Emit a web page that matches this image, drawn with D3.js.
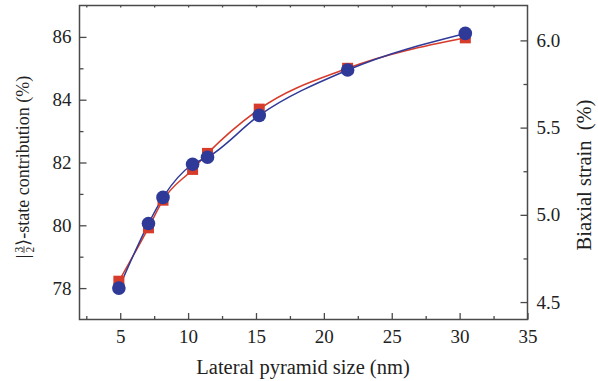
<!DOCTYPE html>
<html>
<head>
<meta charset="utf-8">
<script src="https://cdn.jsdelivr.net/npm/d3@7"></script>
<style>
  html, body { margin: 0; padding: 0; background: #fff; }
  svg { display: block; }
  text { font-family: "Liberation Serif", "Times New Roman", serif; fill: #222; }
</style>
</head>
<body>
<svg id="chart" width="598" height="381"></svg>
<script>
// Lateral pyramid size (nm)
const sizes = [4.9, 7.08, 8.15, 10.33, 11.43, 15.24, 21.75, 30.42];
// |3/2>-state contribution (%) — left axis, red squares
const contribution = [78.22, 79.92, 80.80, 81.78, 82.29, 83.70, 85.0, 85.97];
// Biaxial strain (%) — right axis, blue circles
const strain = [4.58, 4.95, 5.10, 5.29, 5.33, 5.57, 5.83, 6.04];

const xTickValues = [5, 10, 15, 20, 25, 30, 35];
const leftTickValues = [78, 80, 82, 84, 86];
const rightTickValues = [4.5, 5.0, 5.5, 6.0];

const svg = d3.select("#chart");
const m = { left: 79.5, right: 527.5, top: 5.5, bottom: 319.5 };

const x = d3.scaleLinear().domain([2, 35]).range([m.left, m.right]);
const yL = d3.scaleLinear().domain([77, 87]).range([m.bottom, m.top]);
const yR = d3.scaleLinear().domain([4.4, 6.2]).range([m.bottom, m.top]);

const axisColor = "#4a4a4a";
const fontSize = 19;
const titleSize = 20.5;

function styleAxis(g) {
  g.select(".domain").remove();
  g.selectAll(".tick line").attr("stroke", axisColor).attr("stroke-width", 1.3);
  g.selectAll(".tick text").attr("font-size", fontSize).attr("fill", "#222");
}

// bottom axis: major ticks with labels, minor ticks every 2.5
svg.append("g").attr("transform", `translate(0,${m.bottom})`)
  .call(d3.axisBottom(x).tickValues(d3.range(2.5, 35, 2.5).filter(v => v % 5 !== 0)).tickSize(-3.5).tickFormat(""))
  .call(styleAxis);
svg.append("g").attr("transform", `translate(0,${m.bottom})`)
  .call(d3.axisBottom(x).tickValues(xTickValues).tickSize(-6.5).tickPadding(10).tickFormat(d3.format("d")))
  .call(styleAxis);

// top axis: tiny ticks only
svg.append("g").attr("transform", `translate(0,${m.top})`)
  .call(d3.axisTop(x).tickValues(d3.range(2.5, 35, 2.5)).tickSize(-2).tickFormat(""))
  .call(styleAxis);

// left axis
svg.append("g").attr("transform", `translate(${m.left},0)`)
  .call(d3.axisLeft(yL).tickValues([79, 81, 83, 85]).tickSize(-4).tickFormat(""))
  .call(styleAxis);
svg.append("g").attr("transform", `translate(${m.left},0)`)
  .call(d3.axisLeft(yL).tickValues(leftTickValues).tickSize(-7).tickPadding(8).tickFormat(d3.format("d")))
  .call(styleAxis);

// right axis
svg.append("g").attr("transform", `translate(${m.right},0)`)
  .call(d3.axisRight(yR).tickValues([4.75, 5.25, 5.75]).tickSize(-4).tickFormat(""))
  .call(styleAxis);
svg.append("g").attr("transform", `translate(${m.right},0)`)
  .call(d3.axisRight(yR).tickValues(rightTickValues).tickSize(-7).tickPadding(9).tickFormat(d3.format(".1f")))
  .call(styleAxis);

// frame
svg.append("rect")
  .attr("x", m.left).attr("y", m.top)
  .attr("width", m.right - m.left).attr("height", m.bottom - m.top)
  .attr("fill", "none").attr("stroke", axisColor).attr("stroke-width", 1.5);

const red = "#d63b2b";
const blue = "#2f3a98";

const lineL = d3.line().x((d, i) => x(sizes[i])).y(d => yL(d)).curve(d3.curveMonotoneX);
const lineR = d3.line().x((d, i) => x(sizes[i])).y(d => yR(d)).curve(d3.curveMonotoneX);

svg.append("path").datum(contribution).attr("d", lineL)
  .attr("fill", "none").attr("stroke", red).attr("stroke-width", 1.5);
svg.append("path").datum(strain).attr("d", lineR)
  .attr("fill", "none").attr("stroke", blue).attr("stroke-width", 1.5);

const sq = 11;
svg.append("g").selectAll("rect").data(contribution).join("rect")
  .attr("x", (d, i) => x(sizes[i]) - sq / 2)
  .attr("y", d => yL(d) - sq / 2)
  .attr("width", sq).attr("height", sq)
  .attr("fill", red);

svg.append("g").selectAll("circle").data(strain).join("circle")
  .attr("cx", (d, i) => x(sizes[i]))
  .attr("cy", d => yR(d))
  .attr("r", 6.8)
  .attr("fill", blue);

// x axis title
svg.append("text")
  .attr("x", 303).attr("y", 374)
  .attr("text-anchor", "middle").attr("font-size", titleSize)
  .text("Lateral pyramid size (nm)");

// right axis title
svg.append("text")
  .attr("transform", "translate(591,175) rotate(-90)")
  .attr("text-anchor", "middle").attr("font-size", titleSize)
  .attr("xml:space", "preserve")
  .text("Biaxial strain  (%)");

// left axis title with stacked 3/2 fraction in the ket
const leftTitleSize = 18;
const lt = svg.append("g");
const bar = lt.append("text").attr("font-size", leftTitleSize).text("|");
const barW = bar.node().getComputedTextLength();
const fracW = 8;
const rest = lt.append("text").attr("font-size", leftTitleSize).text("\u27E9-state contribution (%)");
const restW = rest.node().getComputedTextLength();
const total = barW + 1 + fracW + restW;
let cx = -total / 2;
bar.attr("x", cx).attr("y", 0);
cx += barW + 1;
lt.append("text").attr("font-size", 11.5).attr("text-anchor", "middle")
  .attr("x", cx + fracW / 2).attr("y", -6.5).text("3");
lt.append("line").attr("x1", cx + 0.5).attr("x2", cx + fracW - 0.5)
  .attr("y1", -5).attr("y2", -5).attr("stroke", "#222").attr("stroke-width", 0.8);
lt.append("text").attr("font-size", 11.5).attr("text-anchor", "middle")
  .attr("x", cx + fracW / 2).attr("y", 5).text("2");
cx += fracW;
rest.attr("x", cx).attr("y", 0);
lt.attr("transform", "translate(29,167) rotate(-90)");
</script>
</body>
</html>
